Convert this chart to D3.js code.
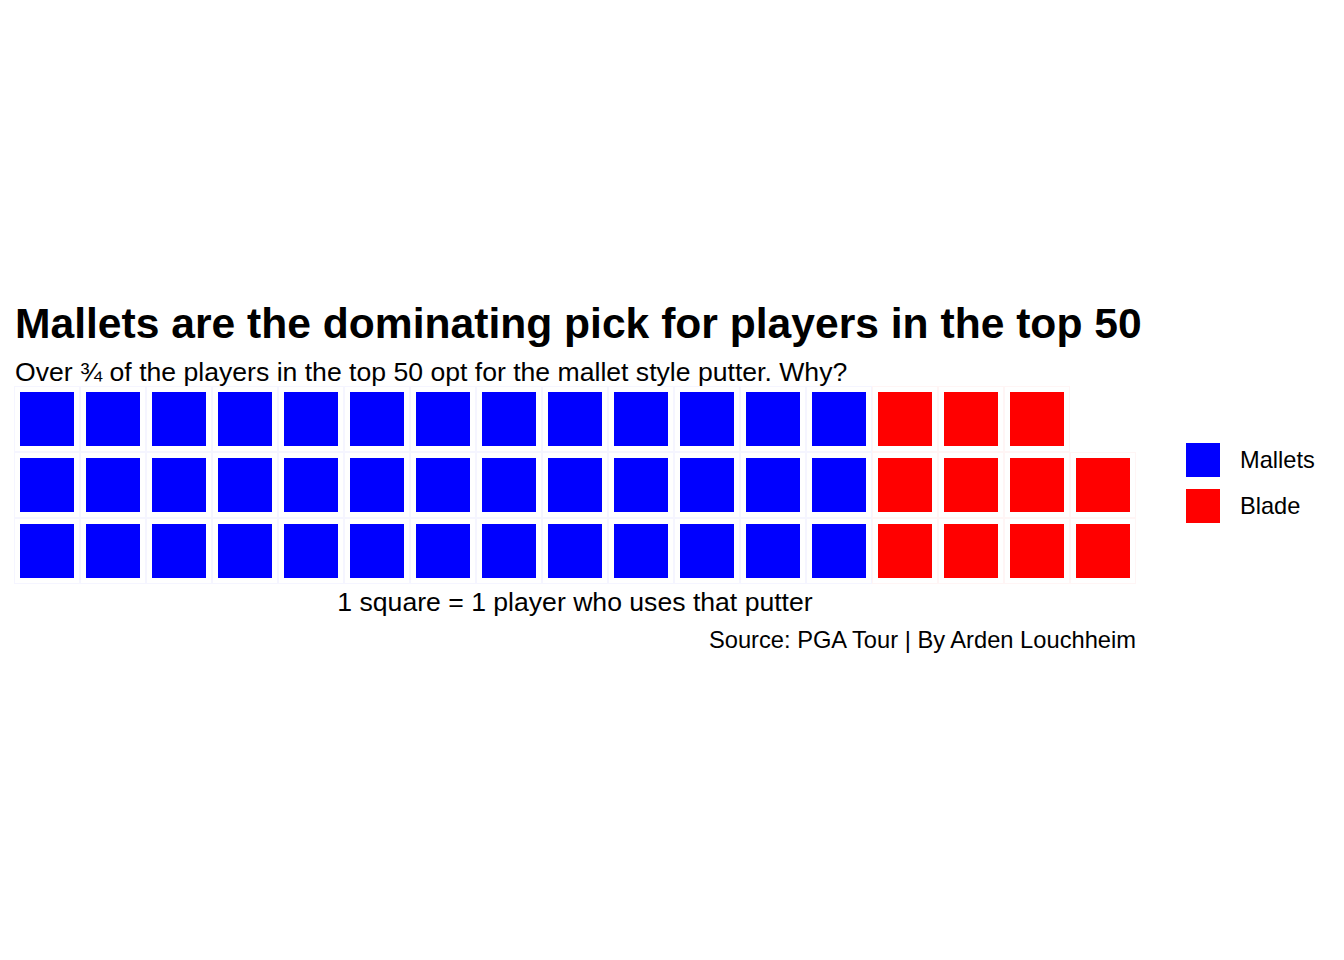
<!DOCTYPE html>
<html lang="en">
<head>
<meta charset="UTF-8">
<title>Putter waffle</title>
<script src="https://d3js.org/d3.v7.min.js"></script>
<style>
    body { margin: 0; background: #fff; font-family: "Liberation Sans", Arial, sans-serif; }
    svg text { fill: #000; }
</style>
</head>
<body>
<div id="chart"></div>
<script>
    const categories = ["Mallets", "Blade"];
    const counts = [39, 11];
    const colors = ["#0000ff", "#ff0000"];
    const rowsPerColumn = 3;

    const width = 1344, height = 960;
    const plot = { left: 14, right: 1136, top: 386, bottom: 584 };

    const svg = d3.select("#chart").append("svg")
        .attr("width", width)
        .attr("height", height);

    // one record per player, filled column by column from the bottom
    const tiles = [];
    categories.forEach((c, k) => {
        for (let j = 0; j < counts[k]; j++) tiles.push({ cat: c });
    });
    tiles.forEach((d, i) => {
        d.col = Math.floor(i / rowsPerColumn);
        d.row = i % rowsPerColumn;
    });
    const nCols = Math.ceil(tiles.length / rowsPerColumn);

    const x = d3.scaleBand().domain(d3.range(nCols)).range([plot.left, plot.right]);
    const y = d3.scaleBand().domain(d3.range(rowsPerColumn)).range([plot.bottom, plot.top]);
    const color = d3.scaleOrdinal().domain(categories).range(colors);

    const inset = 6;
    const g = svg.append("g");

    // faint tile outlines
    g.selectAll("rect.outline")
        .data(tiles)
        .enter().append("rect")
        .attr("class", "outline")
        .attr("x", d => x(d.col) + 0.5)
        .attr("y", d => y(d.row) + 0.5)
        .attr("width", x.bandwidth() - 1)
        .attr("height", y.bandwidth() - 1)
        .attr("fill", "none")
        .attr("stroke", d => color(d.cat))
        .attr("stroke-opacity", 0.04);

    g.selectAll("rect.tile")
        .data(tiles)
        .enter().append("rect")
        .attr("class", "tile")
        .attr("x", d => x(d.col) + inset)
        .attr("y", d => y(d.row) + inset)
        .attr("width", x.bandwidth() - 2 * inset)
        .attr("height", y.bandwidth() - 2 * inset)
        .attr("fill", d => color(d.cat));

    // titles
    svg.append("text")
        .attr("x", 15).attr("y", 338)
        .style("font-size", "42.6px").style("font-weight", "bold")
        .text("Mallets are the dominating pick for players in the top 50");

    svg.append("text")
        .attr("x", 15).attr("y", 381)
        .style("font-size", "26.6px")
        .text("Over ¾ of the players in the top 50 opt for the mallet style putter. Why?");

    svg.append("text")
        .attr("x", (plot.left + plot.right) / 2).attr("y", 611)
        .attr("text-anchor", "middle")
        .style("font-size", "26.6px")
        .text("1 square = 1 player who uses that putter");

    svg.append("text")
        .attr("x", plot.right).attr("y", 648)
        .attr("text-anchor", "end")
        .style("font-size", "23.7px")
        .text("Source: PGA Tour | By Arden Louchheim");

    // legend
    const legend = svg.append("g").attr("transform", "translate(1186,443)");
    const item = legend.selectAll("g")
        .data(categories)
        .enter().append("g")
        .attr("transform", (d, i) => `translate(0,${i * 46})`);
    item.append("rect")
        .attr("width", 34).attr("height", 34)
        .attr("fill", d => color(d));
    item.append("text")
        .attr("x", 54).attr("y", 17)
        .attr("dy", "0.35em")
        .style("font-size", "23.6px")
        .text(d => d);
</script>
</body>
</html>
